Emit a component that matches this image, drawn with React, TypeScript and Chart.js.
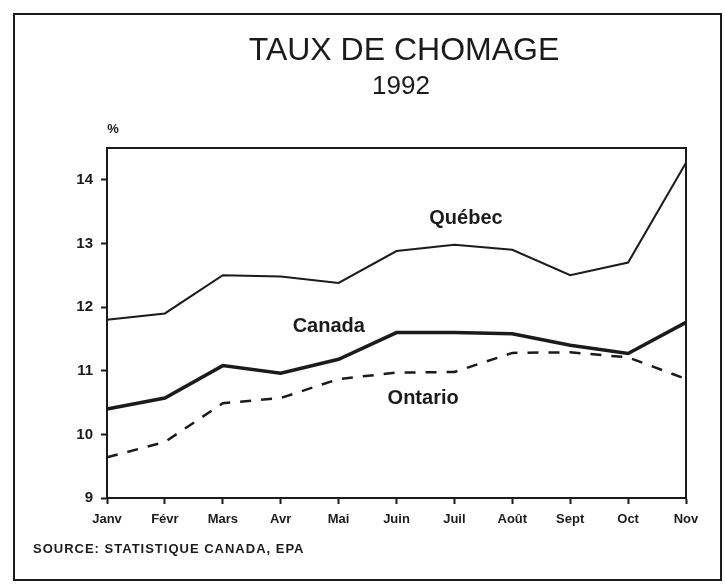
import React, { useEffect, useRef } from "react";
import { Chart, registerables } from "chart.js";

Chart.register(...registerables);

// ---- data ----
const months = ["Janv", "Févr", "Mars", "Avr", "Mai", "Juin", "Juil", "Août", "Sept", "Oct", "Nov"];
const quebec = [11.8, 11.9, 12.5, 12.48, 12.38, 12.88, 12.98, 12.9, 12.5, 12.7, 14.27];
const canada = [10.4, 10.57, 11.08, 10.96, 11.18, 11.6, 11.6, 11.58, 11.4, 11.27, 11.76];
const ontario = [9.64, 9.88, 10.49, 10.57, 10.87, 10.97, 10.98, 11.28, 11.29, 11.21, 10.87];
const yMin = 9;
const yMax = 14.5;
const yStep = 1;

const titleText = "TAUX DE CHOMAGE";
const subtitleText = "1992";
const unitText = "%";
const sourceText = "SOURCE: STATISTIQUE CANADA, EPA";
const seriesNames = ["Québec", "Canada", "Ontario"];

// ---- styles ----
const INK = "#1b1b1b";
const FONT = "'Liberation Sans', Arial, Helvetica, sans-serif";

// label anchors in data coordinates (category index, value)
const labelAnchors = [
  { text: seriesNames[0], x: 6.2, y: 13.4 },
  { text: seriesNames[1], x: 3.83, y: 11.69 },
  { text: seriesNames[2], x: 5.46, y: 10.57 },
];

const decorPlugin = {
  id: "decor",
  beforeDraw(chart: any) {
    const ctx = chart.ctx;
    ctx.save();
    ctx.fillStyle = "#ffffff";
    ctx.fillRect(0, 0, chart.width, chart.height);
    ctx.restore();
  },
  afterDraw(chart: any) {
    const { ctx, chartArea: a, scales } = chart;
    ctx.save();
    ctx.strokeStyle = INK;
    ctx.lineWidth = 2;
    // plot frame
    ctx.strokeRect(a.left, a.top, a.right - a.left, a.bottom - a.top);
    // outer page frame
    ctx.strokeRect(14, 14, 707, 566);

    ctx.fillStyle = INK;
    ctx.textAlign = "center";
    ctx.textBaseline = "middle";
    ctx.font = `32px ${FONT}`;
    ctx.fillText(titleText, 404, 51);
    ctx.font = `26px ${FONT}`;
    ctx.fillText(subtitleText, 401, 87);

    ctx.font = `bold 13px ${FONT}`;
    ctx.fillText(unitText, a.left + 6, 129);

    ctx.font = `bold 20px ${FONT}`;
    for (const l of labelAnchors) {
      const px = scales.x.getPixelForValue(l.x);
      const py = scales.y.getPixelForValue(l.y);
      ctx.fillText(l.text, px, py);
    }

    ctx.textAlign = "left";
    ctx.font = `bold 13px ${FONT}`;
    try {
      (ctx as any).letterSpacing = "1px";
    } catch (e) {}
    ctx.fillText(sourceText, 33, 549);
    ctx.restore();
  },
};

export default function App() {
  const ref = useRef<HTMLCanvasElement | null>(null);

  useEffect(() => {
    if (!ref.current) return;
    const chart = new Chart(ref.current, {
      type: "line",
      data: {
        labels: months,
        datasets: [
          {
            label: seriesNames[0],
            data: quebec,
            borderColor: INK,
            borderWidth: 2,
            pointRadius: 0,
            tension: 0,
            fill: false,
          },
          {
            label: seriesNames[1],
            data: canada,
            borderColor: INK,
            borderWidth: 3.5,
            pointRadius: 0,
            tension: 0,
            fill: false,
          },
          {
            label: seriesNames[2],
            data: ontario,
            borderColor: INK,
            borderWidth: 2.5,
            borderDash: [11, 10],
            pointRadius: 0,
            tension: 0,
            fill: false,
          },
        ],
      },
      options: {
        responsive: false,
        animation: false,
        devicePixelRatio: 1,
        layout: { padding: { left: 8, top: 148, right: 39, bottom: 40 } },
        plugins: {
          legend: { display: false },
          title: { display: false },
          tooltip: { enabled: false },
        },
        scales: {
          x: {
            type: "category",
            offset: false,
            grid: {
              display: true,
              drawOnChartArea: false,
              drawTicks: true,
              tickLength: 6,
              tickColor: INK,
              tickWidth: 2,
              offset: false,
            },
            border: { display: true, color: INK, width: 2 },
            ticks: {
              color: INK,
              font: { family: FONT, size: 13, weight: "bold" },
              padding: 8,
              maxRotation: 0,
              autoSkip: false,
            },
            afterFit: (s: any) => {
              s.height = 585 - 498 - 40;
              s.paddingLeft = 0;
              s.paddingRight = 0;
            },
          },
          y: {
            type: "linear",
            min: yMin,
            max: yMax,
            grid: {
              display: true,
              drawOnChartArea: false,
              drawTicks: true,
              tickLength: 6,
              tickColor: INK,
              tickWidth: 2,
            },
            border: { display: true, color: INK, width: 2 },
            ticks: {
              stepSize: yStep,
              includeBounds: false,
              color: INK,
              font: { family: FONT, size: 15, weight: "bold" },
              padding: 8,
            },
            afterFit: (s: any) => {
              s.width = 107 - 8;
              s.paddingTop = 0;
              s.paddingBottom = 0;
            },
          },
        },
      },
      plugins: [decorPlugin],
    });
    return () => chart.destroy();
  }, []);

  return (
    <div style={{ position: "fixed", left: 0, top: 0, width: 725, height: 585, background: "#fff" }}>
      <canvas ref={ref} width={725} height={585} style={{ display: "block", width: 725, height: 585 }} />
    </div>
  );
}
